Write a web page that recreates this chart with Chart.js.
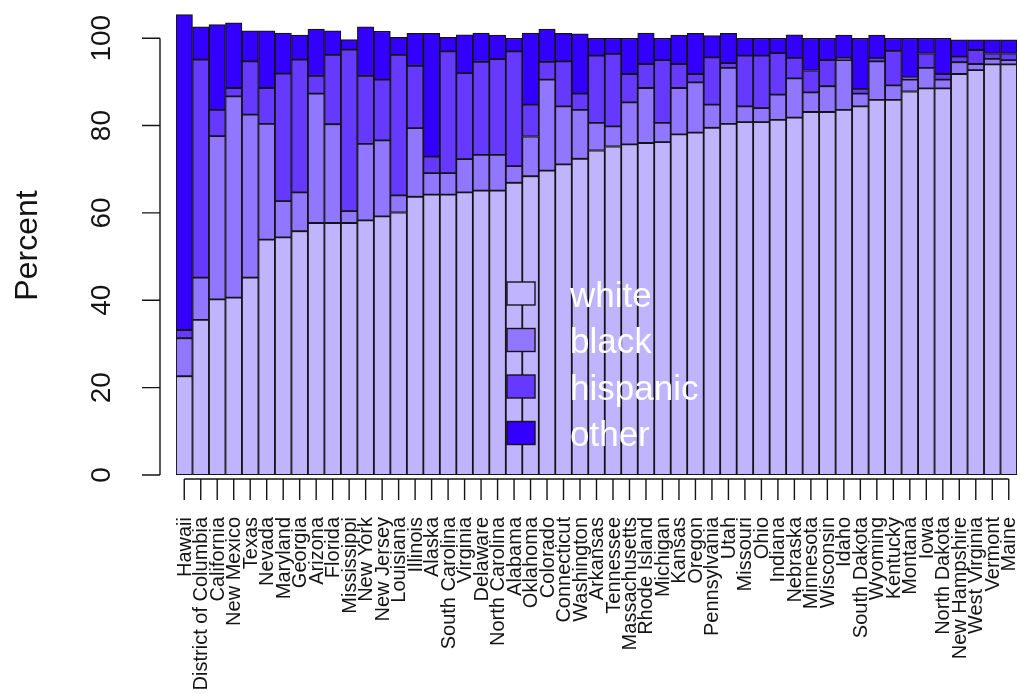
<!DOCTYPE html>
<html>
<head>
<meta charset="utf-8">
<script src="https://cdn.jsdelivr.net/npm/chart.js@4/dist/chart.umd.min.js"></script>
<style>
  html, body { margin: 0; padding: 0; background: #ffffff; }
  #wrap { width: 1020px; height: 694px; }
</style>
</head>
<body>
<div id="wrap"><canvas id="c" width="1020" height="694"></canvas></div>
<script>
// States ordered by share of the lightest group
const states = [
  'Hawaii', 'District of Columbia', 'California', 'New Mexico', 'Texas', 'Nevada',
  'Maryland', 'Georgia', 'Arizona', 'Florida', 'Mississippi', 'New York', 'New Jersey',
  'Louisiana', 'Illinois', 'Alaska', 'South Carolina', 'Virginia', 'Delaware',
  'North Carolina', 'Alabama', 'Oklahoma', 'Colorado', 'Connecticut', 'Washington',
  'Arkansas', 'Tennessee', 'Massachusetts', 'Rhode Island', 'Michigan', 'Kansas',
  'Oregon', 'Pennsylvania', 'Utah', 'Missouri', 'Ohio', 'Indiana', 'Nebraska',
  'Minnesota', 'Wisconsin', 'Idaho', 'South Dakota', 'Wyoming', 'Kentucky', 'Montana',
  'Iowa', 'North Dakota', 'New Hampshire', 'West Virginia', 'Vermont', 'Maine'
];

// Percent per group (stack segments, bottom to top)
const white = [
  22.6, 35.5, 40.2, 40.6, 45.2, 53.9, 54.4, 55.8, 57.7, 57.7, 57.7, 58.3, 59.2,
  60.1, 63.7, 64.2, 64.2, 64.7, 65.1, 65.1, 66.9, 68.4, 69.7, 71.1, 72.4,
  74.3, 75.2, 75.7, 76.0, 76.2, 78.0, 78.4, 79.5, 80.4, 80.8, 80.8, 81.3, 81.8,
  83.1, 83.1, 83.6, 84.4, 85.9, 85.9, 87.8, 88.5, 88.5, 91.8, 92.7, 94.0, 94.0
];
const black = [
  8.7, 9.7, 37.4, 46.1, 37.3, 26.5, 8.3, 8.9, 29.6, 22.6, 2.7, 17.5, 17.4,
  3.9, 15.7, 4.9, 4.9, 7.6, 8.2, 8.2, 3.8, 9.1, 20.8, 13.3, 11.2,
  6.3, 4.6, 9.6, 12.6, 4.4, 10.6, 11.5, 5.3, 12.8, 3.6, 3.2, 5.8, 9.0,
  4.5, 5.9, 11.4, 2.9, 8.8, 3.3, 2.7, 4.7, 2.0, 2.7, 1.4, 1.3, 1.0
];
const hispanic = [
  1.9, 49.9, 6.0, 1.9, 12.2, 8.2, 29.2, 30.4, 4.1, 15.9, 37.0, 15.6, 13.9,
  32.2, 14.3, 3.8, 27.9, 19.7, 21.3, 21.9, 26.3, 7.3, 4.1, 10.3, 3.7,
  15.4, 16.6, 6.5, 5.5, 14.4, 5.5, 1.9, 10.8, 1.1, 11.6, 12.0, 9.5, 4.7,
  5.0, 6.0, 0.5, 1.1, 0.8, 7.9, 0.5, 3.3, 1.3, 1.3, 3.2, 1.2, 1.5
];
const other = [
  72.2, 7.5, 19.5, 14.9, 7.0, 13.1, 9.3, 5.6, 10.7, 5.5, 2.3, 11.2, 11.1,
  4.0, 7.4, 28.2, 3.2, 8.8, 6.6, 5.5, 3.0, 16.4, 7.5, 6.4, 13.7,
  4.0, 3.6, 8.2, 7.1, 5.0, 6.6, 9.3, 5.0, 6.8, 4.0, 4.0, 3.4, 5.3,
  7.4, 5.0, 5.2, 11.6, 5.2, 2.9, 9.0, 3.5, 8.2, 3.8, 2.3, 3.1, 3.1
];

const seriesNames = ['white', 'black', 'hispanic', 'other'];
const seriesData = [white, black, hispanic, other];
const seriesColors = ['#C1B4FF', '#9177FF', '#6639FF', '#3300FF'];
const yTicks = [0, 20, 40, 60, 80, 100];
const yTitle = 'Percent';

const FONT = '"Liberation Sans", Arial, Helvetica, sans-serif';
const INK = '#141414';

// Base-graphics style axes and legend, placed through the chart's scales
const baseAxes = {
  id: 'baseAxes',
  afterDraw(chart) {
    const ctx = chart.ctx;
    const xs = chart.scales.x;
    const ys = chart.scales.y;
    const area = chart.chartArea;
    ctx.save();
    ctx.strokeStyle = INK;
    ctx.fillStyle = INK;
    ctx.lineWidth = 1.4;

    // y axis
    const axX = area.left - 16;
    const y0 = ys.getPixelForValue(yTicks[0]);
    const y1 = ys.getPixelForValue(yTicks[yTicks.length - 1]);
    ctx.beginPath();
    ctx.moveTo(axX, y0); ctx.lineTo(axX, y1);
    yTicks.forEach(v => {
      const py = ys.getPixelForValue(v);
      ctx.moveTo(axX - 18, py); ctx.lineTo(axX, py);
    });
    ctx.stroke();
    ctx.font = '28px ' + FONT;
    ctx.textAlign = 'center';
    ctx.textBaseline = 'middle';
    yTicks.forEach(v => {
      const py = ys.getPixelForValue(v);
      ctx.save();
      ctx.translate(axX - 59, py);
      ctx.rotate(-Math.PI / 2);
      ctx.fillText(String(v), 0, 1);
      ctx.restore();
    });
    ctx.save();
    ctx.font = '32px ' + FONT;
    ctx.translate(28, (area.top + area.bottom) / 2 + 2);
    ctx.rotate(-Math.PI / 2);
    ctx.fillText(yTitle, 0, 0);
    ctx.restore();

    // x axis with one tick per bar
    const axY = area.bottom + 4;
    const xFirst = xs.getPixelForValue(0);
    const xLast = xs.getPixelForValue(states.length - 1);
    ctx.beginPath();
    ctx.moveTo(xFirst, axY); ctx.lineTo(xLast, axY);
    states.forEach((s, i) => {
      const px = xs.getPixelForValue(i);
      ctx.moveTo(px, axY); ctx.lineTo(px, axY + 21);
    });
    ctx.stroke();
    ctx.font = '20px ' + FONT;
    ctx.textAlign = 'right';
    ctx.textBaseline = 'middle';
    states.forEach((s, i) => {
      const px = xs.getPixelForValue(i);
      ctx.save();
      ctx.translate(px + 1, area.bottom + 42);
      ctx.rotate(-Math.PI / 2);
      ctx.fillText(s, 0, 0);
      ctx.restore();
    });

    // legend inside the plot, no frame
    const boxL = 507, boxW = 28, boxH = 23, top = 282, step = 46.5;
    ctx.font = '35px ' + FONT;
    ctx.textAlign = 'left';
    ctx.textBaseline = 'alphabetic';
    seriesNames.forEach((name, k) => {
      const by = top + k * step;
      ctx.fillStyle = seriesColors[k];
      ctx.fillRect(boxL, by, boxW, boxH);
      ctx.lineWidth = 1.4;
      ctx.strokeStyle = INK;
      ctx.strokeRect(boxL, by, boxW, boxH);
      ctx.fillStyle = '#ffffff';
      ctx.fillText(name, 570, by + boxH + 1.5);
    });
    ctx.restore();
  }
};

const datasets = seriesNames.map((name, k) => ({
  label: name,
  data: seriesData[k],
  backgroundColor: seriesColors[k],
  borderColor: INK,
  borderWidth: 1.25,
  borderSkipped: false,
  categoryPercentage: 1.0,
  barPercentage: 1.0
}));

new Chart(document.getElementById('c'), {
  type: 'bar',
  data: { labels: states, datasets },
  options: {
    responsive: false,
    devicePixelRatio: 1,
    animation: false,
    layout: { padding: { left: 176, right: 3, top: 12, bottom: 219 } },
    plugins: { legend: { display: false }, tooltip: { enabled: false } },
    scales: {
      x: { stacked: true, display: false },
      y: { stacked: true, display: false, min: 0, max: 106 }
    }
  },
  plugins: [baseAxes]
});
</script>
</body>
</html>
